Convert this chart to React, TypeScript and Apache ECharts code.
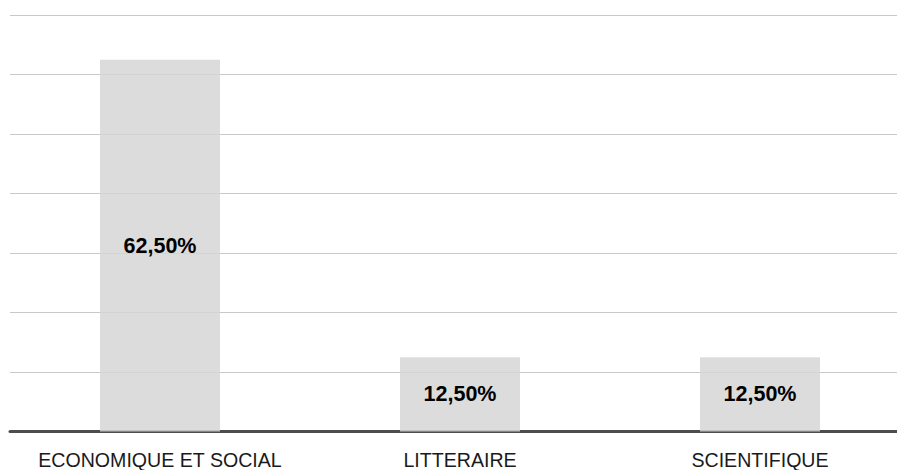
import React, { useEffect, useRef } from "react";
import * as echarts from "echarts";

const categories = ["ECONOMIQUE ET SOCIAL", "LITTERAIRE", "SCIENTIFIQUE"];
const shares = [62.5, 12.5, 12.5];
const axisMax = 70;
const axisStep = 10;

const FONT = "'Liberation Sans', Arial, sans-serif";

function formatPercent(v: number): string {
  return v.toFixed(2).replace(".", ",") + "%";
}

export default function App() {
  const ref = useRef<HTMLDivElement>(null);

  useEffect(() => {
    if (!ref.current) return;
    const chart = echarts.init(ref.current, null, { renderer: "svg" });
    chart.setOption({
      animation: false,
      backgroundColor: "#ffffff",
      grid: { left: 10, top: 15, bottom: 38.5, right: 0, containLabel: false },
      xAxis: {
        type: "category",
        data: categories,
        axisTick: { show: false },
        axisLine: { show: true, lineStyle: { color: "#4d4d4d", width: 3 } },
        axisLabel: {
          color: "#1a1a1a",
          fontFamily: FONT,
          fontSize: 19.6,
          margin: 18,
          interval: 0,
        },
      },
      yAxis: {
        type: "value",
        min: 0,
        max: axisMax,
        interval: axisStep,
        axisLabel: { show: false },
        axisLine: { show: false },
        axisTick: { show: false },
        splitLine: { lineStyle: { color: "#c8c8c8", width: 1 } },
      },
      series: [
        {
          type: "bar",
          data: shares,
          barWidth: 120,
          itemStyle: { color: "rgba(213,213,213,0.84)" },
          label: {
            show: true,
            position: "inside",
            formatter: (p: any) => formatPercent(p.value),
            color: "#000000",
            fontFamily: FONT,
            fontWeight: "bold",
            fontSize: 21.5,
          },
        },
      ],
    });
    return () => chart.dispose();
  }, []);

  // The plot runs slightly past the right edge of the view, so the
  // container is a little wider than the window and clipped by it.
  return (
    <div style={{ position: "fixed", left: 0, top: 0, width: 897, height: 470, overflow: "hidden" }}>
      <div ref={ref} style={{ width: 910, height: 470 }} />
    </div>
  );
}
